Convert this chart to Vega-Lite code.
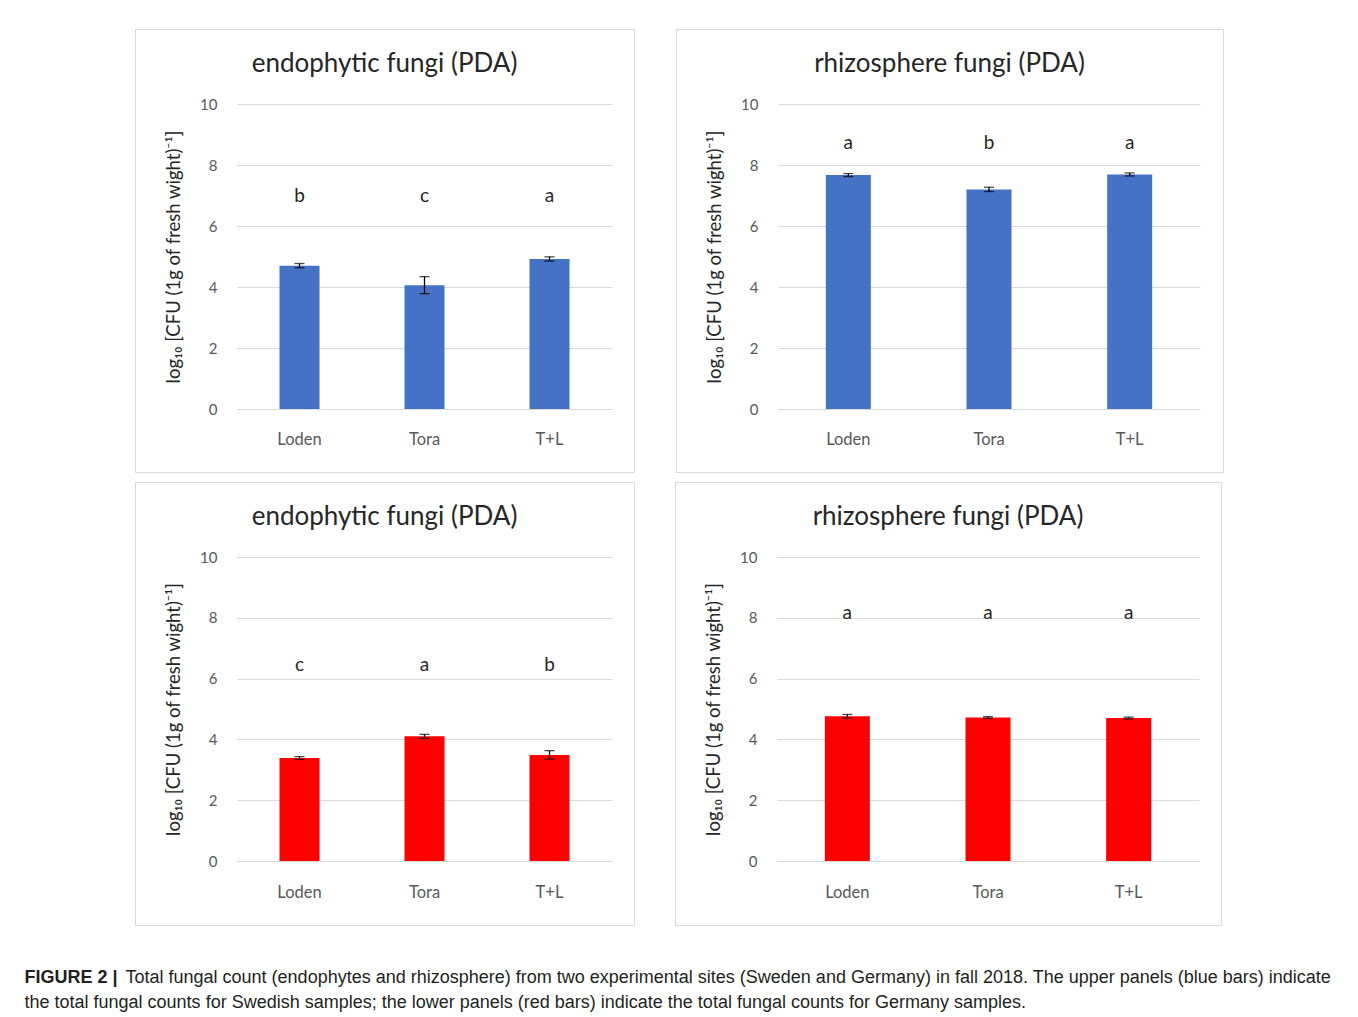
{
  "$schema": "https://vega.github.io/schema/vega-lite/v6.json",
  "padding": {"left": 24, "top": 28, "right": 0, "bottom": 0},
  "background": "white",
  "datasets": {
    "d": [
      {"panel": "TL", "cat": "Loden", "mean": 4.70, "se": 0.07, "letter": "b"},
      {"panel": "TL", "cat": "Tora", "mean": 4.06, "se": 0.28, "letter": "c"},
      {"panel": "TL", "cat": "T+L", "mean": 4.92, "se": 0.07, "letter": "a"},
      {"panel": "TR", "cat": "Loden", "mean": 7.67, "se": 0.05, "letter": "a"},
      {"panel": "TR", "cat": "Tora", "mean": 7.20, "se": 0.07, "letter": "b"},
      {"panel": "TR", "cat": "T+L", "mean": 7.69, "se": 0.05, "letter": "a"},
      {"panel": "BL", "cat": "Loden", "mean": 3.39, "se": 0.045, "letter": "c"},
      {"panel": "BL", "cat": "Tora", "mean": 4.10, "se": 0.065, "letter": "a"},
      {"panel": "BL", "cat": "T+L", "mean": 3.49, "se": 0.14, "letter": "b"},
      {"panel": "BR", "cat": "Loden", "mean": 4.76, "se": 0.06, "letter": "a"},
      {"panel": "BR", "cat": "Tora", "mean": 4.72, "se": 0.03, "letter": "a"},
      {"panel": "BR", "cat": "T+L", "mean": 4.70, "se": 0.03, "letter": "a"}
    ]
  },
  "title": {
    "text": "FIGURE 2 |",
    "subtitle": "the total fungal counts for Swedish samples; the lower panels (red bars) indicate the total fungal counts for Germany samples.",
    "orient": "bottom",
    "anchor": "start",
    "frame": "bounds",
    "dx": -101,
    "offset": -18,
    "baseline": "top",
    "font": "Liberation Sans",
    "fontSize": 18,
    "fontWeight": "bold",
    "color": "#231f20",
    "subtitleFont": "Liberation Sans",
    "subtitleFontSize": 18,
    "subtitleFontWeight": "normal",
    "subtitleColor": "#231f20",
    "subtitlePadding": 7
  },
  "vconcat": [
    {
      "hconcat": [
        {
          "width": 499, "height": 443,
          "title": {"text": "endophytic fungi (PDA)"},
          "data": {"name": "d"},
          "transform": [{"filter": "datum.panel === 'TL'"}],
          "encoding": {
            "x": {"field": "cat", "type": "nominal", "sort": ["Loden", "Tora", "T+L"], "title": null,
                  "scale": {"range": [102, 477], "paddingInner": 0.68, "paddingOuter": 0.34}}
          },
          "resolve": {"axis": {"y": "independent"}},
          "layer": [
            {"mark": {"type": "bar", "color": "#4472C4"},
             "encoding": {"y": {"field": "mean", "type": "quantitative", "title": null,
                                "scale": {"domain": [0, 10], "nice": false, "range": [380, 75]},
                                "axis": {"orient": "left", "grid": true, "labels": false, "offset": 0, "values": [0, 2, 4, 6, 8, 10]}}}},
            {"mark": {"type": "errorbar", "color": "black", "thickness": 1.3, "ticks": {"size": 10}},
             "encoding": {"y": {"field": "mean", "type": "quantitative", "title": "log₁₀ [CFU (1g of fresh wight)⁻¹]",
                                "axis": {"orient": "left", "grid": false, "offset": -90, "values": [0, 2, 4, 6, 8, 10]}},
                          "yError": {"field": "se"}}},
            {"mark": {"type": "text", "fontSize": 19, "color": "#262626", "baseline": "middle"},
             "encoding": {"y": {"datum": 7.0, "type": "quantitative", "axis": null}, "text": {"field": "letter"}}}
          ]
        },
        {
          "width": 547, "height": 443,
          "title": {"text": "rhizosphere fungi (PDA)"},
          "data": {"name": "d"},
          "transform": [{"filter": "datum.panel === 'TR'"}],
          "encoding": {
            "x": {"field": "cat", "type": "nominal", "sort": ["Loden", "Tora", "T+L"], "title": null,
                  "scale": {"range": [102, 524], "paddingInner": 0.68, "paddingOuter": 0.34}}
          },
          "resolve": {"axis": {"y": "independent"}},
          "layer": [
            {"mark": {"type": "bar", "color": "#4472C4"},
             "encoding": {"y": {"field": "mean", "type": "quantitative", "title": null,
                                "scale": {"domain": [0, 10], "nice": false, "range": [380, 75]},
                                "axis": {"orient": "left", "grid": true, "labels": false, "offset": 0, "values": [0, 2, 4, 6, 8, 10]}}}},
            {"mark": {"type": "errorbar", "color": "black", "thickness": 1.3, "ticks": {"size": 10}},
             "encoding": {"y": {"field": "mean", "type": "quantitative", "title": "log₁₀ [CFU (1g of fresh wight)⁻¹]",
                                "axis": {"orient": "left", "grid": false, "offset": -90, "values": [0, 2, 4, 6, 8, 10]}},
                          "yError": {"field": "se"}}},
            {"mark": {"type": "text", "fontSize": 19, "color": "#262626", "baseline": "middle"},
             "encoding": {"y": {"datum": 8.72, "type": "quantitative", "axis": null}, "text": {"field": "letter"}}}
          ]
        }
      ],
      "spacing": 40
    },
    {
      "title": {
        "text": "Total fungal count (endophytes and rhizosphere) from two experimental sites (Sweden and Germany) in fall 2018. The upper panels (blue bars) indicate",
        "orient": "bottom",
        "anchor": "start",
        "frame": "bounds",
        "dx": -9,
        "offset": 43,
        "baseline": "top",
        "font": "Liberation Sans",
        "fontSize": 18,
        "fontWeight": "normal",
        "color": "#231f20"
      },
      "hconcat": [
        {
          "width": 499, "height": 443,
          "title": {"text": "endophytic fungi (PDA)"},
          "data": {"name": "d"},
          "transform": [{"filter": "datum.panel === 'BL'"}],
          "encoding": {
            "x": {"field": "cat", "type": "nominal", "sort": ["Loden", "Tora", "T+L"], "title": null,
                  "scale": {"range": [102, 477], "paddingInner": 0.68, "paddingOuter": 0.34}}
          },
          "resolve": {"axis": {"y": "independent"}},
          "layer": [
            {"mark": {"type": "bar", "color": "#FF0000"},
             "encoding": {"y": {"field": "mean", "type": "quantitative", "title": null,
                                "scale": {"domain": [0, 10], "nice": false, "range": [379, 75]},
                                "axis": {"orient": "left", "grid": true, "labels": false, "offset": 0, "values": [0, 2, 4, 6, 8, 10]}}}},
            {"mark": {"type": "errorbar", "color": "black", "thickness": 1.3, "ticks": {"size": 10}},
             "encoding": {"y": {"field": "mean", "type": "quantitative", "title": "log₁₀ [CFU (1g of fresh wight)⁻¹]",
                                "axis": {"orient": "left", "grid": false, "offset": -90, "values": [0, 2, 4, 6, 8, 10]}},
                          "yError": {"field": "se"}}},
            {"mark": {"type": "text", "fontSize": 19, "color": "#262626", "baseline": "middle"},
             "encoding": {"y": {"datum": 6.45, "type": "quantitative", "axis": null}, "text": {"field": "letter"}}}
          ]
        },
        {
          "width": 546, "height": 443,
          "title": {"text": "rhizosphere fungi (PDA)"},
          "data": {"name": "d"},
          "transform": [{"filter": "datum.panel === 'BR'"}],
          "encoding": {
            "x": {"field": "cat", "type": "nominal", "sort": ["Loden", "Tora", "T+L"], "title": null,
                  "scale": {"range": [102, 524], "paddingInner": 0.68, "paddingOuter": 0.34}}
          },
          "resolve": {"axis": {"y": "independent"}},
          "layer": [
            {"mark": {"type": "bar", "color": "#FF0000"},
             "encoding": {"y": {"field": "mean", "type": "quantitative", "title": null,
                                "scale": {"domain": [0, 10], "nice": false, "range": [379, 75]},
                                "axis": {"orient": "left", "grid": true, "labels": false, "offset": 0, "values": [0, 2, 4, 6, 8, 10]}}}},
            {"mark": {"type": "errorbar", "color": "black", "thickness": 1.3, "ticks": {"size": 10}},
             "encoding": {"y": {"field": "mean", "type": "quantitative", "title": "log₁₀ [CFU (1g of fresh wight)⁻¹]",
                                "axis": {"orient": "left", "grid": false, "offset": -90, "values": [0, 2, 4, 6, 8, 10]}},
                          "yError": {"field": "se"}}},
            {"mark": {"type": "text", "fontSize": 19, "color": "#262626", "baseline": "middle"},
             "encoding": {"y": {"datum": 8.16, "type": "quantitative", "axis": null}, "text": {"field": "letter"}}}
          ]
        }
      ],
      "spacing": 39
    }
  ],
  "spacing": 8,
  "config": {
    "view": {"stroke": "#d9d9d9", "strokeWidth": 1},
    "font": "Lato",
    "axis": {
      "labelFont": "Lato", "labelColor": "#595959", "labelFontSize": 15,
      "titleFont": "Lato", "titleFontWeight": "normal", "titleColor": "#262626", "titleFontSize": 18.5,
      "domain": false, "ticks": false, "tickSize": 0
    },
    "axisY": {
      "gridColor": "#d9d9d9", "gridWidth": 1,
      "labelPadding": 8, "titlePadding": 16
    },
    "axisX": {"grid": false, "offset": -63, "labelPadding": 22, "labelAngle": 0, "labelFontSize": 16.5},
    "title": {"font": "Lato", "fontSize": 26, "fontWeight": "normal", "color": "#262626", "offset": -48, "anchor": "middle"}
  }
}
